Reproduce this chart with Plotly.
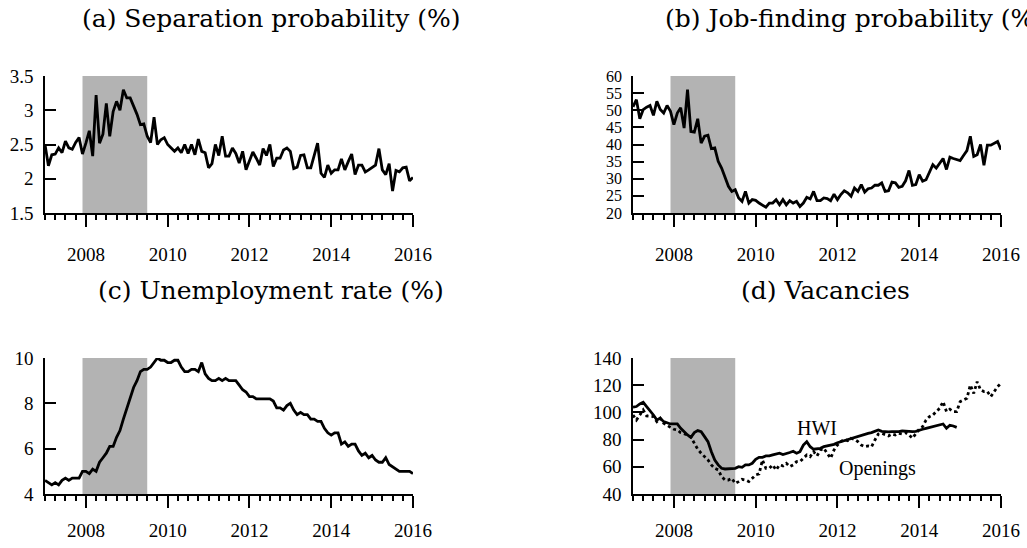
import plotly.graph_objects as go

# ---------------- data (monthly, Jan 2007 .. Jan 2016) ----------------
start_year = 2007
recession = [2007.917, 2009.5]

separation = [2.5, 2.19, 2.35, 2.36, 2.45, 2.38, 2.55, 2.45, 2.43, 2.53, 2.6, 2.36,
              2.52, 2.7, 2.33, 3.22, 2.52, 2.65, 3.1, 2.62, 2.98, 3.13, 3.0, 3.3,
              3.18, 3.18, 3.06, 2.94, 2.79, 2.8, 2.62, 2.53, 2.9, 2.5, 2.57, 2.6,
              2.5, 2.45, 2.4, 2.45, 2.38, 2.5, 2.37, 2.5, 2.35, 2.58, 2.4, 2.38,
              2.16, 2.22, 2.5, 2.34, 2.62, 2.33, 2.33, 2.45, 2.37, 2.23, 2.4, 2.13,
              2.26, 2.39, 2.3, 2.2, 2.44, 2.34, 2.5, 2.18, 2.3, 2.3, 2.42, 2.45,
              2.4, 2.15, 2.17, 2.34, 2.35, 2.16, 2.16, 2.33, 2.52, 2.08, 2.02, 2.2,
              2.08, 2.13, 2.13, 2.29, 2.13, 2.25, 2.36, 2.06, 2.2, 2.2, 2.1, 2.13,
              2.17, 2.2, 2.44, 2.13, 2.06, 2.22, 1.82, 2.12, 2.1, 2.16, 2.17, 1.97,
              2.02]

job_finding = [51, 53.1, 47.5, 50.2, 50.9, 51.4, 48.5, 52.6, 50.2, 49.2, 51.4, 49.7,
               45.8, 49.2, 50.7, 44.8, 56.0, 43.8, 43.6, 47.5, 40.4, 42.4, 42.7, 38.8,
               39.0, 35.1, 33.1, 30.2, 27.8, 26.3, 26.8, 24.4, 23.4, 26.3, 22.9, 23.9,
               23.7, 22.9, 22.4, 21.7, 22.9, 22.9, 23.9, 22.4, 23.9, 22.4, 23.6, 22.9,
               23.4, 21.9, 22.9, 24.6, 24.1, 26.3, 23.6, 23.6, 24.4, 24.2, 23.6, 25.5,
               23.9, 25.4, 26.5, 25.9, 24.9, 27.3, 26.3, 28.3, 26.1, 27.1, 27.3, 28.1,
               28.1, 28.8, 26.3, 26.5, 29.0, 28.8, 27.5, 27.8, 29.4, 32.4, 28.1, 28.3,
               31.2, 29.3, 29.7, 31.7, 34.1, 33.1, 34.6, 35.9, 32.7, 36.3, 35.9, 35.6,
               35.3, 36.8, 38.2, 42.4, 36.5, 37.0, 40.0, 33.9, 39.8, 39.8, 40.4, 40.9,
               38.5]

unemployment = [4.6, 4.5, 4.4, 4.5, 4.4, 4.6, 4.7, 4.6, 4.7, 4.7, 4.7, 5.0,
                5.0, 4.9, 5.1, 5.0, 5.4, 5.6, 5.8, 6.1, 6.1, 6.5, 6.8, 7.3,
                7.8, 8.3, 8.7, 9.0, 9.4, 9.5, 9.5, 9.6, 9.8, 10.0, 9.9, 9.9,
                9.8, 9.8, 9.9, 9.9, 9.6, 9.4, 9.4, 9.5, 9.5, 9.4, 9.8, 9.3,
                9.1, 9.0, 9.0, 9.1, 9.0, 9.1, 9.0, 9.0, 9.0, 8.8, 8.6, 8.5,
                8.3, 8.3, 8.2, 8.2, 8.2, 8.2, 8.2, 8.1, 7.8, 7.8, 7.7, 7.9,
                8.0, 7.7, 7.5, 7.6, 7.5, 7.5, 7.3, 7.3, 7.2, 7.2, 6.9, 6.7,
                6.6, 6.7, 6.7, 6.2, 6.3, 6.1, 6.2, 6.2, 5.9, 5.7, 5.8, 5.6,
                5.7, 5.5, 5.4, 5.4, 5.6, 5.3, 5.2, 5.1, 5.0, 5.0, 5.0, 5.0,
                4.9]

hwi = [103.8, 104.3, 106.2, 107.4, 104.3, 101.3, 98.1, 94.4, 95.7, 93.2, 92.5, 91.5,
       91.5, 91.5, 88.3, 85.8, 83.4, 81.7, 85.1, 86.6, 85.8, 82.2, 78.5, 71.1,
       65.0, 61.4, 58.9, 58.4, 58.4, 58.4, 58.9, 60.1, 59.6, 61.4, 61.4, 62.6,
       65.5, 67.0, 67.0, 68.0, 68.0, 68.7, 69.5, 70.0, 69.0, 69.5, 70.5, 71.4,
       70.0, 71.1, 76.0, 78.5, 74.8, 72.9, 73.1, 73.6, 74.8, 75.3, 76.0, 76.5,
       77.7, 78.5, 79.2, 80.2, 81.0, 81.7, 82.2, 83.2, 84.1, 84.6, 85.1, 86.4,
       87.1, 86.1, 85.7, 85.7, 85.9, 85.7, 85.9, 86.4, 86.1, 85.9, 85.9, 86.1,
       86.6, 87.6, 88.3, 89.0, 89.5, 90.0, 90.7, 91.5, 88.3, 90.5, 90.0, 89.0]

openings = [98.1, 94.4, 98.1, 101.8, 97.4, 96.9, 96.9, 93.2, 95.7, 92.0, 90.8, 89.0,
            87.6, 87.1, 85.1, 84.1, 83.4, 81.7, 77.3, 72.9, 70.0, 67.5, 65.0, 61.4,
            58.9, 57.7, 52.8, 50.3, 50.3, 51.5, 47.8, 49.1, 50.8, 50.3, 49.1, 51.5,
            54.0, 54.8, 65.0, 58.9, 58.9, 61.4, 57.7, 61.4, 60.7, 62.6, 60.1, 61.4,
            63.8, 63.8, 66.3, 68.7, 67.5, 71.1, 68.0, 72.4, 73.6, 70.0, 66.3, 72.4,
            76.0, 78.5, 80.2, 79.2, 81.0, 80.2, 78.5, 76.0, 74.8, 75.3, 74.8, 79.7,
            84.1, 84.6, 83.4, 82.7, 84.1, 83.4, 84.6, 84.1, 85.1, 83.4, 81.0, 84.6,
            87.6, 89.5, 94.4, 96.9, 98.1, 100.6, 103.0, 107.9, 100.6, 102.3, 100.6, 100.6,
            107.9, 109.2, 110.4, 120.1, 114.0, 122.6, 116.5, 115.3, 115.3, 111.6, 115.3, 118.9,
            121.4]

x_ticks = [2008, 2010, 2012, 2014, 2016]
y_ticks_a = [1.5, 2, 2.5, 3, 3.5]
y_ticks_b = [20, 25, 30, 35, 40, 45, 50, 55, 60]
y_ticks_c = [4, 6, 8, 10]
y_ticks_d = [40, 60, 80, 100, 120, 140]

titles = ["(a) Separation probability (%)", "(b) Job-finding probability (%)",
          "(c) Unemployment rate (%)", "(d) Vacancies"]

# ---------------- layout helpers ----------------
W, H = 1027, 548
def px_x(p):
    return p / W
def px_y(p):
    return 1 - p / H

def months(n):
    return [start_year + i / 12 for i in range(n)]

SERIF = "Liberation Serif, Times New Roman, serif"
TITLE_FONT = "DejaVu Serif, serif"
fig = go.Figure()

panels = [
    dict(xa="x", ya="y", xd=(45, 413), yd=(76, 213), yr=(1.5, 3.5), yt=y_ticks_a,
         ysize=19, xstand=11),
    dict(xa="x2", ya="y2", xd=(633, 1001), yd=(76, 213), yr=(20, 60), yt=y_ticks_b,
         ysize=16, xstand=11),
    dict(xa="x3", ya="y3", xd=(45, 413), yd=(358, 494), yr=(4, 10), yt=y_ticks_c,
         ysize=19, xstand=6),
    dict(xa="x4", ya="y4", xd=(633, 1001), yd=(358, 494), yr=(40, 140), yt=y_ticks_d,
         ysize=19, xstand=6),
]

series = [separation, job_finding, unemployment]
for i, s in enumerate(series):
    fig.add_trace(go.Scatter(x=months(len(s)), y=s, mode="lines",
                             line=dict(color="black", width=2.8),
                             xaxis=panels[i]["xa"], yaxis=panels[i]["ya"],
                             showlegend=False))
fig.add_trace(go.Scatter(x=months(len(openings)), y=openings, mode="lines",
                         line=dict(color="black", width=2.8, dash="dot"),
                         xaxis="x4", yaxis="y4", showlegend=False))
fig.add_trace(go.Scatter(x=months(len(hwi)), y=hwi, mode="lines",
                         line=dict(color="black", width=2.8),
                         xaxis="x4", yaxis="y4", showlegend=False))

layout = dict(template="none", width=W, height=H, autosize=False,
              margin=dict(l=0, r=0, t=0, b=0, pad=0),
              plot_bgcolor="white", paper_bgcolor="white", showlegend=False,
              font=dict(family=SERIF, size=19, color="black"))
shapes = []
for i, p in enumerate(panels):
    sx = "" if i == 0 else str(i + 1)
    layout["xaxis" + sx] = dict(
        domain=[px_x(p["xd"][0]), px_x(p["xd"][1])], anchor=p["ya"],
        range=[start_year, 2016], tickmode="array", tickvals=x_ticks,
        ticktext=[str(t) for t in x_ticks], ticks="outside", ticklen=12,
        tickwidth=1.5, tickcolor="black", showline=True, linecolor="black",
        linewidth=1.5, showgrid=False, zeroline=False, automargin=False,
        ticklabelstandoff=p["xstand"],
        minor=dict(ticks="outside", ticklen=5, tickwidth=1.5, tickcolor="black",
                   tick0=start_year, dtick=0.25, showgrid=False),
        tickfont=dict(family=SERIF, size=19, color="black"))
    layout["yaxis" + sx] = dict(
        domain=[px_y(p["yd"][1]), px_y(p["yd"][0])], anchor=p["xa"],
        range=list(p["yr"]), tickmode="array", tickvals=p["yt"],
        ticktext=[("%g" % v) for v in p["yt"]], ticks="inside", ticklen=11,
        tickwidth=1.5, tickcolor="black", showline=True, linecolor="black",
        linewidth=1.5, showgrid=False, zeroline=False, automargin=False,
        ticklabelstandoff=6,
        tickfont=dict(family=SERIF, size=p["ysize"], color="black"))
    shapes.append(dict(type="rect", xref=p["xa"], yref=p["ya"],
                       x0=recession[0], x1=recession[1], y0=p["yr"][0], y1=p["yr"][1],
                       fillcolor="#b3b3b3", line=dict(width=0), layer="below"))
layout["shapes"] = shapes

annotations = [
    dict(text=titles[0], x=px_x(271), y=px_y(18), xanchor="center", yanchor="middle"),
    dict(text=titles[1], x=px_x(663), y=px_y(18), xanchor="left", yanchor="middle"),
    dict(text=titles[2], x=px_x(271), y=px_y(290), xanchor="center", yanchor="middle"),
    dict(text=titles[3], x=px_x(825), y=px_y(290), xanchor="center", yanchor="middle"),
]
for a in annotations:
    a.update(xref="paper", yref="paper", showarrow=False,
             font=dict(family=TITLE_FONT, size=25, color="black"))
annotations.append(dict(text="HWI", x=2011.49, y=88.5, xref="x4", yref="y4",
                        showarrow=False, font=dict(family=SERIF, size=20, color="black")))
annotations.append(dict(text="Openings", x=2012.98, y=59.1, xref="x4", yref="y4",
                        showarrow=False, font=dict(family=SERIF, size=20, color="black")))
layout["annotations"] = annotations

fig.update_layout(**layout)
fig.write_html("out.html",
               config={"displayModeBar": False},
               post_script="document.body.style.margin='0px';"
                           "document.body.style.overflow='hidden';")
